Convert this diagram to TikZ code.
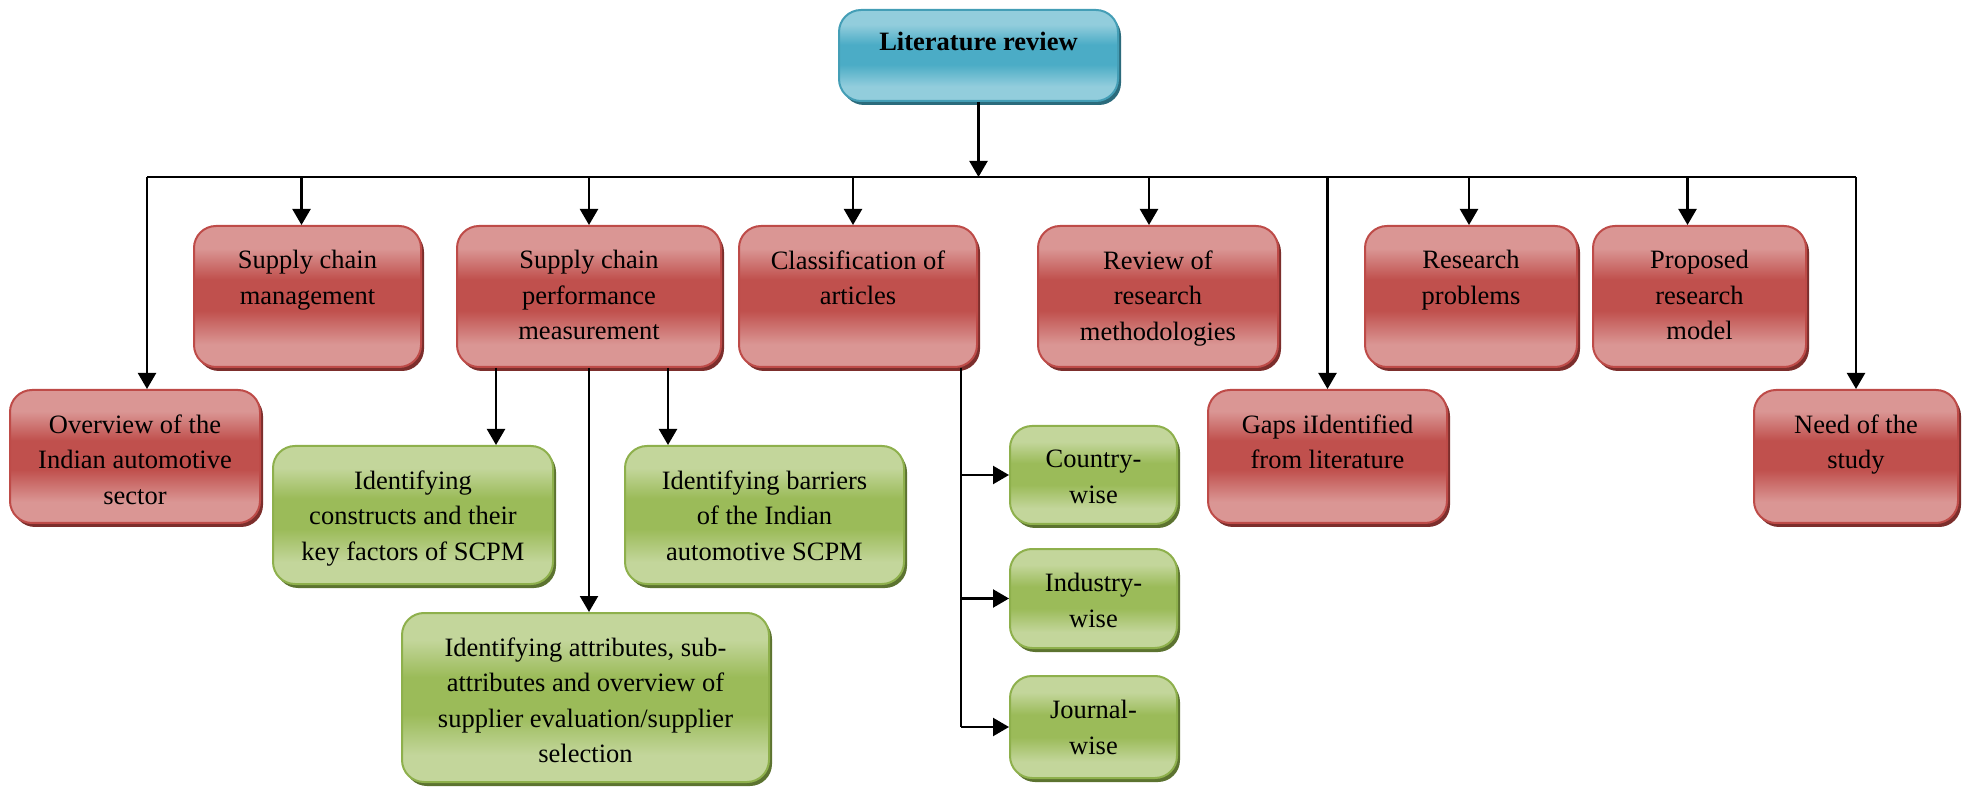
\documentclass[tikz,border=0pt]{standalone}
\usepackage{fontspec}
\setmainfont{Liberation Serif}
\usetikzlibrary{arrows.meta,shadows}

% box colours: pale edge, strong middle, outline and cast shadow
\definecolor{redlight}{RGB}{218,150,148}
\definecolor{redmid}{RGB}{192,80,77}
\definecolor{redline}{RGB}{190,75,72}
\definecolor{redshadow}{RGB}{124,46,44}
\definecolor{bluelight}{RGB}{146,205,220}
\definecolor{bluemid}{RGB}{75,172,198}
\definecolor{blueline}{RGB}{68,158,182}
\definecolor{blueshadow}{RGB}{43,107,124}
\definecolor{greenlight}{RGB}{195,214,155}
\definecolor{greenmid}{RGB}{155,187,89}
\definecolor{greenline}{RGB}{142,176,76}
\definecolor{greenshadow}{RGB}{92,115,48}

% glossy band: pale top and bottom, strong colour through the middle
\pgfdeclareverticalshading{redfx}{100bp}{color(0bp)=(redlight); color(33bp)=(redlight);
  color(45bp)=(redmid); color(56bp)=(redmid); color(67bp)=(redlight); color(100bp)=(redlight)}
\pgfdeclareverticalshading{bluefx}{100bp}{color(0bp)=(bluelight); color(33bp)=(bluelight);
  color(45bp)=(bluemid); color(56bp)=(bluemid); color(67bp)=(bluelight); color(100bp)=(bluelight)}
\pgfdeclareverticalshading{greenfx}{100bp}{color(0bp)=(greenlight); color(33bp)=(greenlight);
  color(45bp)=(greenmid); color(56bp)=(greenmid); color(67bp)=(greenlight); color(100bp)=(greenlight)}

\tikzset{
  chart/.style={rectangle, rounded corners=11pt, line width=1pt, inner sep=0pt, shade},
  redbox/.style={chart, shading=redfx, draw=redline,
    general shadow={fill=redshadow, shadow xshift=1.5pt, shadow yshift=-2pt}},
  bluebox/.style={chart, shading=bluefx, draw=blueline,
    general shadow={fill=blueshadow, shadow xshift=1.5pt, shadow yshift=-2pt}},
  greenbox/.style={chart, shading=greenfx, draw=greenline,
    general shadow={fill=greenshadow, shadow xshift=1.5pt, shadow yshift=-2pt}},
  boxtext/.style={inner sep=0pt, align=center, anchor=north,
    font=\fontsize{13.25pt}{17.75pt}\selectfont, execute at begin node=\strut},
  link/.style={line width=1.1pt, draw=black},
  arr/.style={link, -{Triangle[width=9pt,length=8pt]}},
}

% #1 name, #2 style, #3 left, #4 top, #5 right, #6 bottom, #7 text
\newcommand\chartbox[7]{%
  \node[#2, minimum width={(#5-#3)*0.5pt}, minimum height={(#6-#4)*0.5pt}]
    (#1) at ({(#3+#5)/2},{(#4+#6)/2}) {};
  \node[boxtext] (#1-label) at ({(#3+#5)/2},{#4+24}) {#7};}

\begin{document}
\begin{tikzpicture}[x=0.5pt,y=-0.5pt]
\useasboundingbox (0,0) rectangle (1969,790);

% root
\node[bluebox, minimum width=139.5pt, minimum height=45.5pt] (lit) at (978.5,55.5) {};
\node[boxtext] (lit-label) at (978.5,25) {\textbf{Literature review}};

% first level
\chartbox{ov}{redbox}{10}{390}{260}{523}{Overview of the\\Indian automotive\\sector}
\chartbox{scm}{redbox}{194}{226}{421}{367}{Supply chain\\management}
\chartbox{scpm}{redbox}{457}{226}{721}{367}{Supply chain\\performance\\measurement}
\chartbox{cls}{redbox}{739}{226}{977}{367}{Classification of\\articles}
\chartbox{rev}{redbox}{1038}{226}{1278}{367}{Review of\\research\\methodologies}
\chartbox{gap}{redbox}{1208}{390}{1447}{523}{Gaps iIdentified\\from literature}
\chartbox{rp}{redbox}{1365}{226}{1577}{367}{Research\\problems}
\chartbox{prm}{redbox}{1593}{226}{1806}{367}{Proposed\\research\\model}
\chartbox{need}{redbox}{1754}{390}{1958}{523}{Need of the\\study}

% second level
\chartbox{con}{greenbox}{273}{446}{553}{584}{Identifying\\constructs and their\\key factors of SCPM}
\chartbox{bar}{greenbox}{625}{446}{904}{584}{Identifying barriers\\of the Indian\\automotive SCPM}
\chartbox{att}{greenbox}{402}{613}{769}{782}{Identifying attributes, sub-\\attributes and overview of\\supplier evaluation/supplier\\selection}
\chartbox{cty}{greenbox}{1010}{426}{1177}{524}{Country-\\wise}
\chartbox{ind}{greenbox}{1010}{549}{1177}{648}{Industry-\\wise}
\chartbox{jrn}{greenbox}{1010}{676}{1177}{778}{Journal-\\wise}

% distribution bus
\coordinate (busL) at (147,177);
\coordinate (busR) at (1856,177);
\coordinate (conX) at (496,0);
\coordinate (barX) at (668,0);
\coordinate (clsX) at (961,0);

\draw[arr] (lit.south) -- (lit.south |- busL);
\draw[link] (busL) -- (busR);
\draw[arr] (busL) -- (busL |- ov.north);
\draw[arr] ([xshift=-3pt]scm.north |- busL) -- ([xshift=-3pt]scm.north);
\draw[arr] (scpm.north |- busL) -- (scpm.north);
\draw[arr] ([xshift=-2.5pt]cls.north |- busL) -- ([xshift=-2.5pt]cls.north);
\draw[arr] ([xshift=-4.5pt]rev.north |- busL) -- ([xshift=-4.5pt]rev.north);
\draw[arr] (gap.north |- busL) -- (gap.north);
\draw[arr] ([xshift=-1pt]rp.north |- busL) -- ([xshift=-1pt]rp.north);
\draw[arr] ([xshift=-6pt]prm.north |- busL) -- ([xshift=-6pt]prm.north);
\draw[arr] (busR) -- (busR |- need.north);

% performance measurement branches
\draw[arr] (conX |- scpm.south) -- (conX |- con.north);
\draw[arr] (barX |- scpm.south) -- (barX |- bar.north);
\draw[arr] (scpm.south) -- (scpm.south |- att.north);

% classification branches
\draw[link] (clsX |- cls.south) -- (clsX |- jrn.west);
\draw[arr] (clsX |- cty.west) -- (cty.west);
\draw[arr] (clsX |- ind.west) -- (ind.west);
\draw[arr] (clsX |- jrn.west) -- (jrn.west);
\end{tikzpicture}
\end{document}
